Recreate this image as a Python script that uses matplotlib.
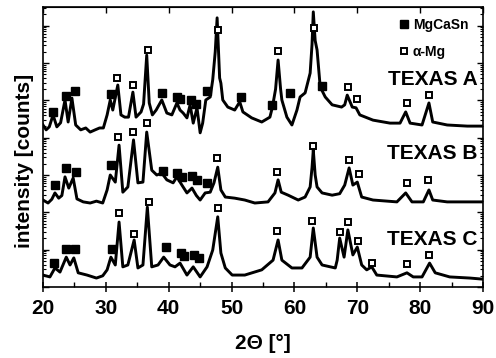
import numpy as np
import matplotlib
matplotlib.use("Agg")
import matplotlib.pyplot as plt
from matplotlib.ticker import LogLocator, MultipleLocator, NullFormatter

plt.rcParams['font.family'] = ['Liberation Sans', 'DejaVu Sans']

# traces: 2theta [deg] and log10(intensity [counts])
x_a = [20.0, 20.5, 21.0, 21.6, 22.2, 22.8, 23.5, 24.0, 24.6, 25.2, 26.0, 26.8, 27.5, 28.3, 29.0,
       29.6, 30.2, 30.7, 31.1, 31.9, 32.4, 33.0, 33.6, 34.3, 34.8, 35.6, 36.0, 36.5, 36.9, 37.4,
       38.0, 38.9, 39.7, 40.5, 41.3, 41.8, 42.3, 42.9, 43.4, 43.9, 44.5, 45.0, 45.4, 45.9, 46.6,
       47.0, 47.4, 47.7, 48.1, 48.3, 48.6, 49.4, 50.5, 51.3, 51.8, 53.2, 54.8, 56.1, 56.5, 57.0,
       57.4, 57.8, 58.0, 58.8, 59.6, 60.4, 60.9, 61.7, 62.5, 62.8, 63.0, 63.3, 63.6, 64.1, 64.9,
       66.0, 67.5, 68.0, 68.4, 69.2, 69.8, 70.4, 72.5, 75.2, 76.8, 77.7, 78.4, 80.3, 81.4, 82.0,
       84.3, 87.5, 90.0]
lg_a = [4.34, 4.21, 4.29, 4.61, 4.29, 4.40, 5.01, 4.42, 5.06, 4.34, 4.21, 4.26, 4.15, 4.21, 4.26,
        4.26, 4.61, 5.01, 4.74, 5.41, 4.61, 4.55, 4.55, 5.22, 4.55, 4.69, 4.90, 6.21, 4.93, 4.61,
        4.74, 5.01, 4.66, 4.61, 4.93, 4.74, 4.66, 4.53, 4.88, 4.39, 4.80, 4.13, 4.39, 5.01, 5.09,
        5.55, 6.30, 7.21, 5.60, 5.46, 5.01, 4.82, 4.74, 4.96, 4.69, 4.53, 4.42, 4.55, 4.82, 5.30,
        6.08, 5.30, 5.01, 4.55, 4.34, 4.74, 5.09, 5.20, 5.73, 6.50, 7.37, 6.60, 6.35, 5.36, 5.09,
        4.88, 4.82, 4.88, 5.14, 4.82, 4.80, 4.61, 4.47, 4.39, 4.39, 4.69, 4.39, 4.34, 4.93, 4.42,
        4.34, 4.31, 4.31]

x_b = [20.0, 20.8, 21.4, 21.9, 22.5, 23.0, 23.5, 24.1, 24.8, 25.4, 26.4, 27.5, 28.5, 29.5, 30.2,
       30.7, 31.5, 32.1, 32.7, 33.5, 34.4, 35.1, 35.9, 36.5, 37.3, 38.1, 38.9, 39.7, 40.7, 41.3,
       42.1, 42.9, 43.4, 43.7, 44.4, 45.0, 45.8, 46.6, 47.2, 47.8, 48.3, 49.0, 50.5, 52.1, 53.7,
       55.8, 56.9, 57.4, 57.9, 59.0, 60.6, 61.7, 62.5, 62.8, 63.0, 63.3, 63.6, 64.4, 66.0, 67.2,
       68.0, 68.7, 69.3, 70.0, 70.7, 72.5, 76.3, 77.7, 78.7, 80.5, 81.4, 82.0, 84.3, 90.0]
lg_b = [2.33, 2.25, 2.35, 2.52, 2.38, 2.45, 2.95, 2.65, 2.92, 2.36, 2.28, 2.25, 2.30, 2.25, 2.60,
        3.00, 2.81, 3.80, 2.54, 2.68, 3.94, 2.79, 2.81, 4.15, 3.13, 3.00, 3.05, 2.87, 2.79, 2.95,
        2.73, 2.52, 2.60, 2.65, 2.45, 2.33, 2.52, 2.54, 2.79, 3.21, 2.60, 2.41, 2.38, 2.33, 2.25,
        2.28, 2.52, 2.87, 2.54, 2.46, 2.33, 2.41, 2.68, 3.20, 3.67, 3.00, 2.68, 2.52, 2.46, 2.50,
        2.73, 3.19, 2.73, 2.81, 2.41, 2.33, 2.28, 2.52, 2.28, 2.28, 2.60, 2.33, 2.28, 2.28]

x_c = [20.0, 21.1, 21.9, 22.7, 23.7, 24.3, 24.9, 25.6, 27.0, 28.5, 29.5, 30.2, 30.8, 31.5, 32.1,
       32.7, 33.5, 34.5, 35.1, 35.9, 36.6, 37.3, 38.3, 39.2, 40.2, 41.0, 41.8, 42.9, 43.9, 45.0,
       46.1, 47.0, 47.8, 48.3, 49.0, 50.1, 52.1, 54.8, 56.6, 57.4, 58.0, 59.6, 61.2, 62.5, 63.0,
       63.6, 64.4, 66.5, 66.8, 67.2, 67.9, 68.5, 69.3, 70.0, 70.7, 71.5, 72.3, 73.1, 76.3, 77.9,
       78.9, 80.3, 81.5, 82.4, 84.7, 87.9, 90.0]
lg_c = [0.32, 0.27, 0.51, 0.40, 0.80, 0.59, 0.78, 0.38, 0.32, 0.24, 0.30, 0.46, 0.80, 0.59, 1.74,
        0.54, 0.59, 1.26, 0.51, 0.59, 2.14, 0.54, 0.59, 0.80, 0.59, 0.54, 0.64, 0.32, 0.54, 0.27,
        0.54, 0.99, 1.88, 0.91, 0.51, 0.32, 0.32, 0.46, 0.72, 1.26, 0.72, 0.51, 0.51, 0.80, 1.58,
        0.80, 0.59, 0.51, 0.72, 1.31, 0.80, 1.53, 0.86, 1.07, 0.59, 0.46, 0.54, 0.32, 0.27, 0.38,
        0.27, 0.27, 0.64, 0.38, 0.27, 0.24, 0.21]

# phase markers (2theta, log10 counts)
mgcasn_x = [21.6, 23.6, 25.1, 30.8, 38.9, 41.3, 41.8, 43.5, 44.3, 46.1, 51.5, 56.4, 59.3, 64.4,
            21.9, 23.7, 25.2, 30.8, 39.1, 41.3, 42.1, 43.7, 44.5, 46.1,
            21.8, 23.7, 25.1, 31.0, 39.6, 42.0, 42.4, 44.0, 44.8]
mgcasn_y = [4.69, 5.12, 5.25, 5.17, 5.20, 5.09, 5.04, 5.01, 4.90, 5.25, 5.09, 4.88, 5.20, 5.38,
            2.73, 3.19, 3.08, 3.27, 3.11, 3.05, 2.95, 2.97, 2.87, 2.79,
            0.64, 1.02, 1.02, 1.02, 1.07, 0.91, 0.83, 0.86, 0.78]
mg_x = [31.8, 34.3, 36.7, 47.8, 57.4, 63.1, 68.5, 70.0, 77.9, 81.4,
        31.9, 34.3, 36.5, 47.7, 57.2, 63.0, 68.7, 70.3, 77.9, 81.2,
        32.1, 34.5, 36.9, 47.8, 57.2, 62.8, 67.2, 68.5, 70.1, 72.3, 77.9, 81.4]
mg_y = [5.60, 5.41, 6.35, 6.88, 6.32, 6.94, 5.36, 5.04, 4.93, 5.14,
        4.02, 4.15, 4.39, 3.46, 3.08, 3.78, 3.40, 3.03, 2.79, 2.87,
        1.98, 1.42, 2.28, 2.12, 1.50, 1.77, 1.47, 1.74, 1.23, 0.64, 0.62, 0.86]

samples = ['TEXAS A', 'TEXAS B', 'TEXAS C']
label_lg = [5.55, 3.58, 1.26]

fig = plt.figure(figsize=(4.96, 3.58), dpi=100)
ax = fig.add_axes([0.0867, 0.1983, 0.8871, 0.7821])

for xs, ls in [(x_a, lg_a), (x_b, lg_b), (x_c, lg_c)]:
    ax.plot(xs, 10 ** np.array(ls), color='black', lw=2.1, solid_joinstyle='round')

h1, = ax.plot(mgcasn_x, 10 ** np.array(mgcasn_y), ls='none', marker='s', ms=6,
              mfc='black', mec='black', label='MgCaSn')
h2, = ax.plot(mg_x, 10 ** np.array(mg_y), ls='none', marker='s', ms=5, mfc='white',
              mec='black', mew=1.4, label='α-Mg')

for name, lv in zip(samples, label_lg):
    ax.text(0.988, 10 ** lv, name, ha='right', va='center', fontsize=15,
            fontweight='bold', transform=ax.get_yaxis_transform())

ax.legend(handles=[h1, h2], loc='upper left', bbox_to_anchor=(0.795, 0.985), frameon=False,
          handlelength=0.6, handletextpad=0.35, labelspacing=0.9, borderpad=0,
          numpoints=1, prop={'weight': 'bold', 'size': 10})

ax.set_yscale('log')
ax.set_xlim(20, 90)
ax.set_ylim(1, 10 ** 7.5)
ax.yaxis.set_major_locator(LogLocator(base=10, numticks=20))
ax.yaxis.set_minor_locator(LogLocator(base=10, subs=np.arange(2, 10), numticks=20))
ax.yaxis.set_major_formatter(NullFormatter())
ax.yaxis.set_minor_formatter(NullFormatter())
ax.xaxis.set_major_locator(MultipleLocator(10))
ax.xaxis.set_minor_locator(MultipleLocator(5))

ax.tick_params(axis='x', which='major', direction='inout', length=7, width=1.1,
               labelsize=15, pad=5)
ax.tick_params(axis='x', which='minor', direction='in', length=3.5, width=1.0)
ax.tick_params(axis='y', which='major', direction='in', length=4, width=1.0, right=True)
ax.tick_params(axis='y', which='minor', direction='in', length=2.5, width=0.8, right=True)
for lbl in ax.get_xticklabels():
    lbl.set_fontweight('bold')
for sp in ax.spines.values():
    sp.set_linewidth(1.2)

top = ax.secondary_xaxis('top')
top.xaxis.set_major_locator(MultipleLocator(10))
top.tick_params(direction='in', length=4, width=1.0, labeltop=False)

ax.set_xlabel('2Θ [°]', fontsize=15, fontweight='bold', labelpad=12)
ax.set_ylabel('intensity [counts]', fontsize=15, fontweight='bold')
ax.yaxis.set_label_coords(-0.02, 0.45)

fig.savefig('out.png', dpi=100)
